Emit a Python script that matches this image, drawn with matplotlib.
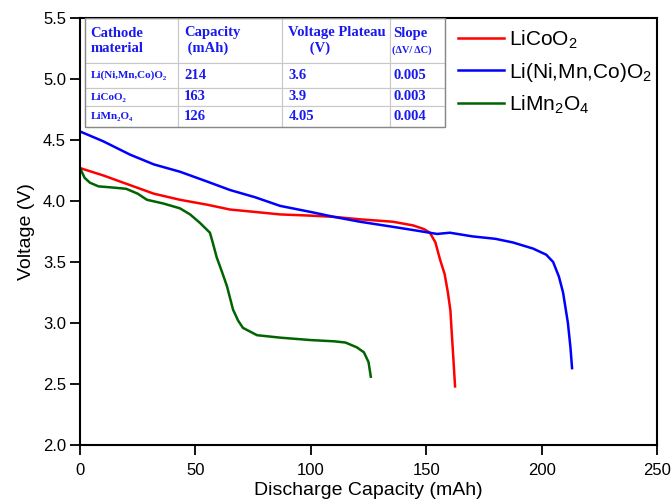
import matplotlib.pyplot as plt
import numpy as np

plt.rcParams['font.family'] = ['Liberation Sans', 'DejaVu Sans']
plt.rcParams['mathtext.fontset'] = 'custom'
plt.rcParams['mathtext.rm'] = 'Liberation Sans'
plt.rcParams['mathtext.it'] = 'Liberation Sans:italic'

# discharge curves
cap_lco = [0, 10, 21.7, 32, 43.3, 55, 65, 76, 86.7, 100, 110, 121.3, 135.6, 144.3, 149, 151.6,
           154, 156, 158, 159.4, 160.5, 161, 161.8, 162.5]
v_lco = [4.27, 4.21, 4.13, 4.06, 4.01, 3.97, 3.93, 3.91, 3.89, 3.88, 3.87, 3.85, 3.83, 3.80, 3.77, 3.74,
         3.66, 3.52, 3.40, 3.25, 3.10, 2.94, 2.70, 2.48]

cap_nmc = [0, 10, 21.7, 32, 43.3, 55, 65, 76, 86.7, 100, 110, 121.3, 135, 145, 154.7, 160.3, 170,
           180, 187.6, 196.3, 202, 205, 207.5, 209.3, 211.4, 212.5, 213.2]
v_nmc = [4.57, 4.49, 4.38, 4.30, 4.24, 4.16, 4.09, 4.03, 3.96, 3.91, 3.87, 3.83, 3.79, 3.76, 3.73, 3.74, 3.71,
         3.69, 3.66, 3.61, 3.56, 3.50, 3.38, 3.25, 3.00, 2.80, 2.63]

cap_lmo = [0, 2, 4.3, 8, 14.4, 20, 25, 29, 36, 43.3, 47.7, 52, 56.3, 57.5, 59.2, 61.5, 63.7, 66.3, 68.5,
           70.6, 76.7, 86.7, 100, 110, 115, 120, 123, 125, 126]
v_lmo = [4.27, 4.19, 4.15, 4.12, 4.11, 4.10, 4.06, 4.01, 3.98, 3.94, 3.89, 3.82, 3.74, 3.66, 3.54, 3.42,
         3.30, 3.11, 3.02, 2.96, 2.90, 2.88, 2.86, 2.85, 2.84, 2.80, 2.76, 2.68, 2.56]

col_labels = ['Cathode\nmaterial', 'Capacity\n (mAh)', 'Voltage Plateau\n      (V)', 'Slope\n ']
materials = ['Li(Ni,Mn,Co)O\u2082', 'LiCoO\u2082', 'LiMn\u2082O\u2084']
capacity = ['214', '163', '126']
plateau = ['3.6', '3.9', '4.05']
slope = ['0.005', '0.003', '0.004']

fig = plt.figure(figsize=(6.72, 5.04), dpi=100)
ax = fig.add_axes([80 / 672, 59 / 504, 577 / 672, 427 / 504])

ax.plot(cap_lco, v_lco, color='#ff0000', lw=1.8, label='LiCoO$_2$')
ax.plot(cap_nmc, v_nmc, color='#0000ff', lw=1.8, label='Li(Ni,Mn,Co)O$_2$')
ax.plot(cap_lmo, v_lmo, color='#006400', lw=1.8, label='LiMn$_2$O$_4$')

ax.set_xlim(0, 250)
ax.set_ylim(2.0, 5.5)
ax.set_xticks(np.arange(0, 251, 50))
ax.set_yticks(np.arange(2.0, 5.51, 0.5))
ax.set_yticklabels(['%.1f' % v for v in np.arange(2.0, 5.51, 0.5)])
ax.tick_params(direction='out', length=7, width=1.3, labelsize=12, colors='black', pad=3)
ax.tick_params(axis='x', pad=6)
for s in ax.spines.values():
    s.set_linewidth(1.5)
ax.set_xlabel('Discharge Capacity (mAh)', fontsize=14, labelpad=3)
ax.set_ylabel('Voltage (V)', fontsize=14, labelpad=6)

leg = ax.legend(loc='upper right', bbox_to_anchor=(1.01, 1.0), frameon=False, fontsize=15,
                handlelength=2.2, handletextpad=0.25, labelspacing=0.47, borderaxespad=0.0,
                borderpad=0.5)

# table in upper left
rows = [[materials[i], capacity[i], plateau[i], slope[i]] for i in range(3)]
tab = ax.table(cellText=rows, colLabels=col_labels, cellLoc='left', colLoc='left',
               bbox=[5 / 577, 1 - 109 / 427, 360 / 577, 109 / 427])
tab.auto_set_font_size(False)
col_w = [93, 104, 108, 55]
row_h = [45, 25, 18, 21]
blue = '#1a1aee'
for (r, c), cell in tab.get_celld().items():
    cell.set_width(col_w[c])
    cell.set_height(row_h[r])
    cell.set_edgecolor('#c8c8c8')
    cell.set_linewidth(0.8)
    cell.PAD = 0.06
    t = cell.get_text()
    t.set_color(blue)
    t.set_fontfamily(['Liberation Serif', 'DejaVu Serif'])
    t.set_fontweight('bold')
    if r > 0 and c == 0:
        t.set_fontsize(8)
    else:
        t.set_fontsize(10.5)
ax.text((392 - 80) / 577, (445 - 50) / 427, '(\u0394V/ \u0394C)', transform=ax.transAxes, color=blue,
        family=['Liberation Serif', 'DejaVu Serif'], fontweight='bold', fontsize=7.5,
        ha='left', va='center', zorder=6)

ax.add_patch(plt.Rectangle((5 / 577, 1 - 109 / 427), 360 / 577, 109 / 427, transform=ax.transAxes,
                           fill=False, edgecolor='#888888', lw=1.0, zorder=5))

fig.savefig('out.png', dpi=100)
